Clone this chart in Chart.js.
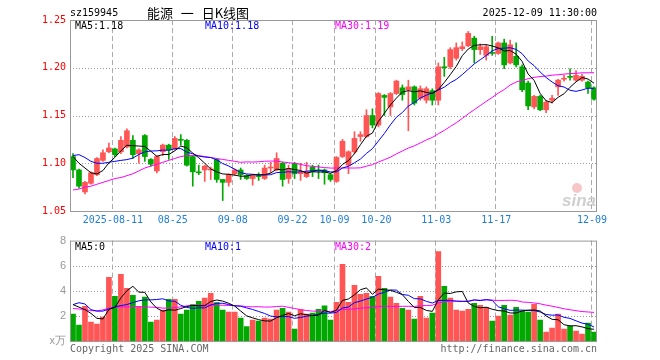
<!DOCTYPE html>
<html>
<head>
<meta charset="utf-8">
<script src="https://cdn.jsdelivr.net/npm/chart.js@4.4.1/dist/chart.umd.min.js"></script>
<style>
  body { margin: 0; background: #fff; }
  #wrap { position: relative; width: 660px; height: 360px; overflow: hidden; font-family: "DejaVu Sans Mono", monospace; font-size: 10px; }
  canvas { position: absolute; left: 0; }
  .t { position: absolute; white-space: nowrap; line-height: 12px; }
</style>
</head>
<body>
<div id="wrap">
  <canvas id="k" width="660" height="230" style="top:0"></canvas>
  <canvas id="v" width="660" height="130" style="top:230px"></canvas>
  <div class="t" style="left:70px;top:7px">sz159945</div>
  <div class="t" style="left:198px;top:5px;transform:translateX(-50%);font-family:'Noto Sans CJK SC';font-size:13px;line-height:16px;word-spacing:5px">能源 一 日K线图</div>
  <div class="t" style="right:63px;top:7px">2025-12-09 11:30:00</div>
  <div class="t" style="left:75px;top:20px">MA5:1.18</div>
  <div class="t" style="left:205px;top:20px;color:#0000ff">MA10:1.18</div>
  <div class="t" style="left:335px;top:20px;color:#ff00ff">MA30:1.19</div>
  <div class="t" style="left:75px;top:241px">MA5:0</div>
  <div class="t" style="left:205px;top:241px;color:#0000ff">MA10:1</div>
  <div class="t" style="left:335px;top:241px;color:#ff00ff">MA30:2</div>
  <div class="t" style="left:70px;top:343px;color:#666">Copyright 2025 SINA.COM</div>
  <div class="t" style="right:63px;top:343px;color:#666">http://finance.sina.com.cn</div>
</div>
<script>
// trading days shown on the chart
const dates = [
  '2025-07-31',
  '2025-08-01','2025-08-04','2025-08-05','2025-08-06','2025-08-07','2025-08-08',
  '2025-08-11','2025-08-12','2025-08-13','2025-08-14','2025-08-15',
  '2025-08-18','2025-08-19','2025-08-20','2025-08-21','2025-08-22',
  '2025-08-25','2025-08-26','2025-08-27','2025-08-28','2025-08-29',
  '2025-09-01','2025-09-02','2025-09-03','2025-09-04','2025-09-05',
  '2025-09-08','2025-09-09','2025-09-10','2025-09-11','2025-09-12',
  '2025-09-15','2025-09-16','2025-09-17','2025-09-18','2025-09-19',
  '2025-09-22','2025-09-23','2025-09-24','2025-09-25','2025-09-26',
  '2025-09-29','2025-09-30',
  '2025-10-09','2025-10-10',
  '2025-10-13','2025-10-14','2025-10-15','2025-10-16','2025-10-17',
  '2025-10-20','2025-10-21','2025-10-22','2025-10-23','2025-10-24',
  '2025-10-27','2025-10-28','2025-10-29','2025-10-30','2025-10-31',
  '2025-11-03','2025-11-04','2025-11-05','2025-11-06','2025-11-07',
  '2025-11-10','2025-11-11','2025-11-12','2025-11-13','2025-11-14',
  '2025-11-17','2025-11-18','2025-11-19','2025-11-20','2025-11-21',
  '2025-11-24','2025-11-25','2025-11-26','2025-11-27','2025-11-28',
  '2025-12-01','2025-12-02','2025-12-03','2025-12-04','2025-12-05',
  '2025-12-08','2025-12-09'
];
const tickDates = ['2025-08-11','2025-08-25','2025-09-08','2025-09-22','2025-10-09','2025-10-20','2025-11-03','2025-11-17','2025-12-09'];
const priceTicks = [1.05, 1.10, 1.15, 1.20, 1.25];
const volTicks = [0, 2, 4, 6, 8];

const opens = [
  1.107,1.093,1.070,1.079,1.088,1.103,1.112,1.115,1.112,1.117,
  1.124,1.110,1.129,1.104,1.092,1.112,1.119,1.115,1.125,1.124,
  1.107,1.091,1.093,1.093,1.104,1.083,1.080,1.089,1.093,1.087,
  1.084,1.087,1.084,1.095,1.093,1.100,1.084,1.100,1.089,1.086,
  1.096,1.093,1.093,1.088,1.081,1.107,1.098,1.112,1.128,1.128,
  1.150,1.140,1.171,1.159,1.173,1.179,1.177,1.180,1.168,1.166,
  1.176,1.166,1.201,1.201,1.210,1.220,1.223,1.231,1.219,1.213,
  1.216,1.215,1.226,1.205,1.212,1.201,1.184,1.159,1.170,1.156,
  1.166,1.180,1.188,1.191,1.187,1.187,1.185,1.179
];
const highs = [
  1.110,1.094,1.081,1.091,1.106,1.114,1.121,1.116,1.128,1.136,
  1.129,1.115,1.130,1.105,1.108,1.120,1.120,1.128,1.130,1.125,
  1.108,1.098,1.098,1.096,1.105,1.083,1.089,1.094,1.095,1.088,
  1.088,1.090,1.098,1.101,1.111,1.101,1.098,1.101,1.100,1.101,
  1.098,1.098,1.094,1.089,1.107,1.125,1.113,1.133,1.133,1.156,
  1.157,1.174,1.172,1.174,1.187,1.182,1.187,1.181,1.181,1.180,
  1.178,1.205,1.211,1.221,1.226,1.227,1.238,1.233,1.225,1.224,
  1.233,1.227,1.230,1.229,1.226,1.203,1.186,1.171,1.171,1.166,
  1.171,1.188,1.192,1.199,1.197,1.193,1.186,1.180
];
const lows = [
  1.085,1.074,1.068,1.078,1.087,1.102,1.111,1.107,1.110,1.116,
  1.105,1.100,1.102,1.097,1.090,1.108,1.104,1.114,1.119,1.097,
  1.076,1.088,1.081,1.083,1.080,1.061,1.076,1.087,1.083,1.083,
  1.077,1.082,1.083,1.090,1.092,1.076,1.079,1.084,1.082,1.085,
  1.086,1.084,1.078,1.081,1.080,1.106,1.089,1.110,1.123,1.127,
  1.137,1.138,1.150,1.150,1.172,1.166,1.134,1.161,1.166,1.163,
  1.161,1.161,1.191,1.199,1.208,1.218,1.222,1.205,1.214,1.208,
  1.213,1.214,1.199,1.204,1.201,1.175,1.156,1.157,1.155,1.153,
  1.163,1.171,1.186,1.187,1.186,1.186,1.173,1.166
];
const closes = [
  1.093,1.076,1.080,1.090,1.105,1.111,1.116,1.109,1.124,1.134,
  1.109,1.114,1.107,1.099,1.107,1.119,1.114,1.126,1.124,1.098,
  1.091,1.090,1.097,1.094,1.083,1.080,1.088,1.093,1.088,1.084,
  1.087,1.086,1.095,1.096,1.105,1.083,1.094,1.089,1.091,1.091,
  1.091,1.092,1.090,1.083,1.106,1.123,1.112,1.126,1.130,1.150,
  1.140,1.173,1.169,1.173,1.186,1.172,1.180,1.163,1.178,1.178,
  1.166,1.201,1.200,1.219,1.221,1.222,1.236,1.219,1.222,1.222,
  1.215,1.226,1.203,1.224,1.203,1.177,1.160,1.170,1.156,1.164,
  1.168,1.187,1.189,1.190,1.192,1.191,1.179,1.167
];
// volume, in 万
const volumes = [
  2.14,1.27,2.77,1.50,1.35,1.90,5.07,3.56,5.31,4.20,
  3.64,2.75,3.49,1.50,1.66,2.46,3.33,3.33,2.14,2.46,
  2.90,3.17,3.41,3.80,3.06,2.46,2.30,2.30,1.82,1.14,
  1.66,1.58,1.82,1.74,2.46,2.61,2.30,0.95,2.51,2.14,
  2.22,2.53,2.80,1.66,3.09,6.10,3.09,4.44,3.72,3.80,
  3.56,5.15,4.20,3.49,3.01,2.61,2.46,1.74,3.56,1.82,
  2.22,7.13,4.36,3.41,2.46,2.38,2.53,3.01,2.85,2.69,
  1.58,1.98,2.85,2.06,2.69,2.38,2.30,2.93,1.66,0.71,
  1.03,2.14,0.95,1.19,0.79,0.55,1.43,0.71
];
const ma5Head = [1.107, 1.100, 1.095, 1.090];
const ma10Head = [1.108, 1.109, 1.106, 1.102, 1.100, 1.100, 1.101, 1.102, 1.103];
const ma30Head = [
  1.072,1.073,1.075,1.076,1.078,1.080,1.082,1.084,1.085,1.087,
  1.089,1.092,1.095,1.097,1.099,1.101,1.103,1.105,1.107,1.108,
  1.108,1.108,1.107,1.106,1.105,1.104,1.103,1.102,1.101
];
const volMa5Head = [2.90, 2.70, 2.50, 2.20];
const volMa10Head = [2.90, 3.05, 2.95, 2.50, 2.38, 2.38, 2.55, 2.72, 2.82];
const volMa30Head = [
  2.59,2.55,2.50,2.42,2.40,2.48,2.62,2.70,2.72,2.72,
  2.73,2.73,2.72,2.70,2.68,2.62,2.62,2.66,2.72,2.80,
  2.85,2.85,2.86,2.86,2.85,2.85,2.83,2.82,2.80
];

function movingAverage(values, n, head) {
  return values.map((v, i) => {
    if (i < n - 1) return head[i];
    let s = 0;
    for (let k = i - n + 1; k <= i; k++) s += values[k];
    return s / n;
  });
}

const red = '#ff5555', green = '#00a800';
const barColors = closes.map((c, i) => c >= opens[i] ? red : green);
const tickIdx = tickDates.map(d => dates.indexOf(d));
const mono = { family: 'DejaVu Sans Mono', size: 10 };

// dotted value lines and dashed date lines, placed through the chart's scales
const gridLines = {
  id: 'gridLines',
  beforeDatasetsDraw(chart) {
    const { ctx, chartArea: a, scales } = chart;
    const xs = scales.x, ys = scales.y;
    const slot = (a.right - a.left) / dates.length;
    ctx.save();
    ctx.strokeStyle = '#999';
    ctx.lineWidth = 1;
    ctx.setLineDash([1, 2]);
    ys.ticks.forEach(t => {
      if (t.value === ys.min || t.value === ys.max) return;
      const y = Math.round(ys.getPixelForValue(t.value)) + 0.5;
      ctx.beginPath(); ctx.moveTo(a.left, y); ctx.lineTo(a.right, y); ctx.stroke();
    });
    ctx.strokeStyle = '#aaa';
    ctx.setLineDash([5, 3]);
    tickIdx.forEach(i => {
      const x = Math.round(xs.getPixelForValue(i) - slot / 2) + 0.5;
      ctx.beginPath(); ctx.moveTo(x, a.top); ctx.lineTo(x, a.bottom); ctx.stroke();
    });
    ctx.restore();
  }
};

const frame = {
  id: 'frame',
  afterDatasetsDraw(chart) {
    const { ctx, chartArea: a } = chart;
    ctx.save();
    ctx.strokeStyle = '#999';
    ctx.lineWidth = 1;
    ctx.strokeRect(a.left + 0.5, a.top + 0.5, a.right - a.left - 1, a.bottom - a.top);
    ctx.restore();
  }
};

const watermark = {
  id: 'watermark',
  beforeDatasetsDraw(chart) {
    const { ctx, chartArea: a } = chart;
    ctx.save();
    ctx.fillStyle = 'rgba(235,130,130,0.45)';
    ctx.beginPath();
    ctx.arc(a.right - 20, a.bottom - 23, 5, 0, Math.PI * 2);
    ctx.fill();
    ctx.font = 'italic bold 17px "Liberation Sans"';
    ctx.fillStyle = '#cfcfcf';
    ctx.textAlign = 'right';
    ctx.fillText('sina', a.right - 1, a.bottom - 5);
    ctx.restore();
  }
};

function xAxis(showLabels) {
  return {
    type: 'category',
    offset: true,
    grid: { display: false, drawTicks: false, tickLength: 0 },
    border: { display: false },
    ticks: {
      display: showLabels,
      autoSkip: false,
      maxRotation: 0,
      padding: 3,
      labelOffset: -2,
      color: '#1f7ed6',
      font: mono,
      callback: (v, i) => {
        const k = tickIdx.indexOf(i);
        if (k < 0) return '';
        return k === 0 ? dates[i] : dates[i].slice(5);
      }
    },
    afterFit: s => { s.height = showLabels ? 19 : 0; }
  };
}

function line(label, data, color) {
  return { type: 'line', label, data, borderColor: color, borderWidth: 1, pointRadius: 0, tension: 0, order: 0 };
}

new Chart(document.getElementById('k'), {
  type: 'bar',
  data: {
    labels: dates,
    datasets: [
      line('MA5', movingAverage(closes, 5, ma5Head), '#000000'),
      line('MA10', movingAverage(closes, 10, ma10Head), '#0000ff'),
      line('MA30', movingAverage(closes, 30, ma30Head), '#ff00ff'),
      {
        label: 'body',
        data: opens.map((o, i) => [o, closes[i]]),
        backgroundColor: barColors,
        barThickness: 5,
        grouped: false,
        order: 1
      },
      {
        label: 'wick',
        data: lows.map((l, i) => [l, highs[i]]),
        backgroundColor: barColors,
        barThickness: 1,
        grouped: false,
        order: 2
      }
    ]
  },
  options: {
    responsive: false,
    devicePixelRatio: 1,
    animation: false,
    layout: { padding: { top: 20, right: 63, left: 0, bottom: 0 } },
    plugins: { legend: { display: false }, tooltip: { enabled: false } },
    scales: {
      x: xAxis(true),
      y: {
        min: 1.05,
        max: 1.25,
        afterBuildTicks: s => { s.ticks = priceTicks.map(v => ({ value: v })); },
        grid: { display: false, drawTicks: false, tickLength: 0 },
        border: { display: false },
        ticks: { padding: 4, color: '#ff0000', font: mono, callback: v => v.toFixed(2) },
        afterFit: s => { s.width = 70; }
      }
    }
  },
  plugins: [gridLines, watermark, frame]
});

new Chart(document.getElementById('v'), {
  type: 'bar',
  data: {
    labels: dates,
    datasets: [
      line('MA5', movingAverage(volumes, 5, volMa5Head), '#000000'),
      line('MA10', movingAverage(volumes, 10, volMa10Head), '#0000ff'),
      line('MA30', movingAverage(volumes, 30, volMa30Head), '#ff00ff'),
      { label: 'volume', data: volumes, backgroundColor: barColors, barThickness: 5, order: 1 }
    ]
  },
  options: {
    responsive: false,
    devicePixelRatio: 1,
    animation: false,
    layout: { padding: { top: 10, right: 63, left: 0, bottom: 19 } },
    plugins: { legend: { display: false }, tooltip: { enabled: false } },
    scales: {
      x: xAxis(false),
      y: {
        min: 0,
        max: 8,
        afterBuildTicks: s => { s.ticks = volTicks.map(v => ({ value: v })); },
        grid: { display: false, drawTicks: false, tickLength: 0 },
        border: { display: false },
        ticks: {
          padding: 4,
          color: '#999',
          font: { family: 'Liberation Sans', size: 11 },
          callback: v => v === 0 ? 'x万' : String(v)
        },
        afterFit: s => { s.width = 70; }
      }
    }
  },
  plugins: [gridLines, frame]
});
</script>
</body>
</html>
